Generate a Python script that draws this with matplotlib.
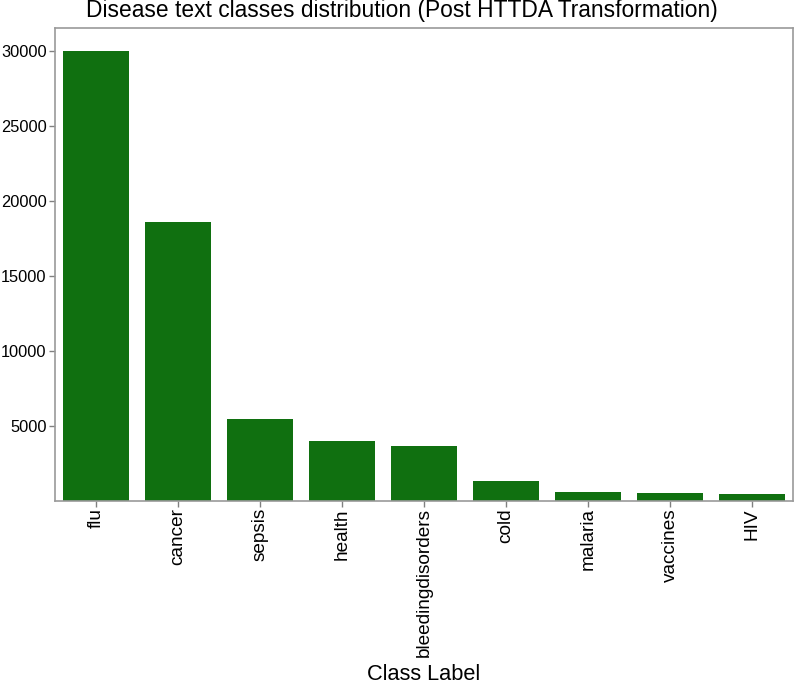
import matplotlib
matplotlib.use("Agg")
import matplotlib.pyplot as plt

categories = ["flu", "cancer", "sepsis", "health", "bleedingdisorders",
              "cold", "malaria", "vaccines", "HIV"]
counts = [30000, 18600, 5450, 3950, 3650, 1310, 580, 510, 430]
yticks = [5000, 10000, 15000, 20000, 25000, 30000]

plt.rcParams['font.family'] = ['Liberation Sans', 'DejaVu Sans']

W, H = 796, 686
fig = plt.figure(figsize=(W / 100, H / 100), dpi=100)
ax = fig.add_axes([55 / W, 1 - 500.5 / H, (793 - 55) / W, (500.5 - 28.3) / H])

x = list(range(len(categories)))
ax.bar(x, counts, width=0.8, color="#107010", edgecolor="none")
ax.set_xlim(-0.5, len(categories) - 0.5)
ax.set_ylim(0, 31500)
ax.set_xticks(x)
ax.set_xticklabels(categories, rotation=90, fontsize=13.7)
ax.set_yticks(yticks)
ax.set_yticklabels([str(v) for v in yticks], fontsize=11.8)
ax.tick_params(axis='both', colors='#808080', labelcolor='black', length=4, width=1)
ax.tick_params(axis='x', pad=1.5)
ax.tick_params(axis='y', pad=2)
for s in ax.spines.values():
    s.set_color('#9a9a9a')
    s.set_linewidth(1.2)

fig.text(401.5 / W, 1 - 17.0 / H,
         "Disease text classes distribution (Post HTTDA Transformation)",
         ha='center', va='baseline', fontsize=16.4, color='black')
fig.text(424 / W, 0.8 / H, "Class Label", ha='center', va='bottom',
         fontsize=15.7, color='black')

fig.savefig("out.png", dpi=100)
